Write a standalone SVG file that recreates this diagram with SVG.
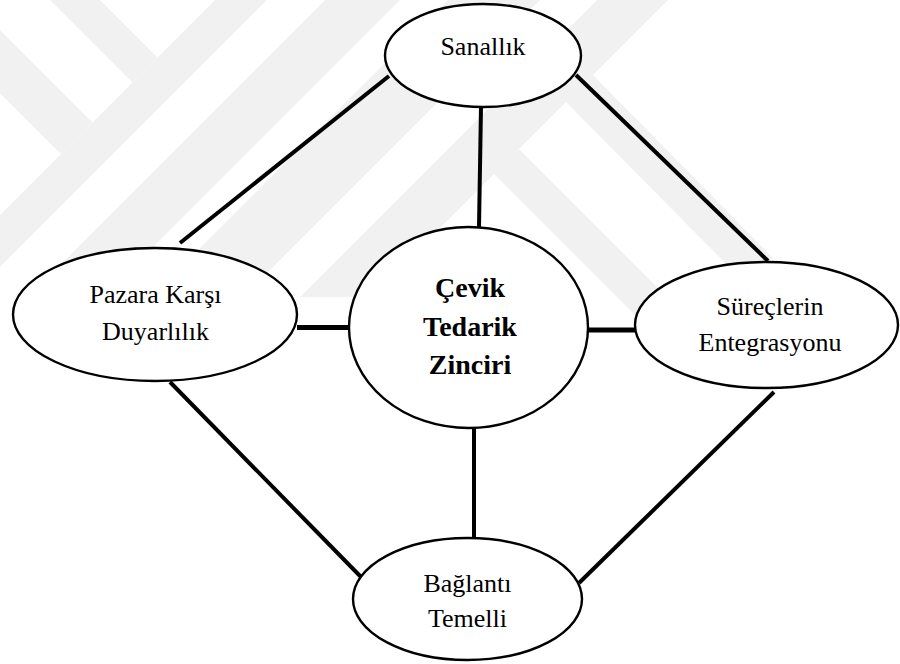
<svg xmlns="http://www.w3.org/2000/svg" width="900" height="664" viewBox="0 0 900 664">
  <style>
    .band { fill: #f1f1f1; stroke: none; }
    .node ellipse { fill: #ffffff; stroke: #000000; stroke-width: 2.4; }
    .label { font-family: 'Liberation Serif', serif; font-size: 26px; fill: #000000; text-anchor: middle; }
    .core { font-family: 'Liberation Serif', serif; font-size: 28px; font-weight: bold; fill: #000000; text-anchor: middle; }
    .link { stroke: #000000; stroke-width: 4; stroke-linecap: butt; fill: none; }
    .link.h { stroke-width: 5; }
  </style>

  <rect x="0" y="0" width="900" height="664" fill="#ffffff"/>

  <!-- faint diagonal band pattern behind the figure -->
  <g id="backdrop">
    <polygon class="band" points="50,0 100,0 157.5,57.5 132.5,82.5"/>
    <polygon class="band" points="0,30 92.5,122.5 61,154 0,93"/>
    <polygon class="band" points="215,0 267,0 0,267 0,215"/>
    <polygon class="band" points="325,0 400,0 103,297 28,297"/>
    <polygon class="band" points="448,0 540,0 243,297 151,297"/>
    <polygon class="band" points="597,0 668,0 371,297 300,297"/>
    <polygon class="band" points="566,102 593,75 772.5,257.5 746,284"/>
    <polygon class="band" points="494,174 519,149 662.5,292.5 637.5,317.5"/>
  </g>

  <!-- connectors -->
  <g id="connectors">
    <line class="link" x1="389" y1="76" x2="180" y2="243"/>
    <line class="link" x1="481" y1="107" x2="479" y2="227"/>
    <line class="link" x1="576" y1="75" x2="768" y2="261"/>
    <line class="link h" x1="297" y1="327.5" x2="349" y2="327.5"/>
    <line class="link h" x1="588" y1="330" x2="636" y2="330"/>
    <line class="link" x1="170" y1="382" x2="362" y2="578"/>
    <line class="link" x1="474" y1="428" x2="474" y2="538"/>
    <line class="link" x1="774" y1="392" x2="579" y2="583"/>
  </g>

  <g id="sanallik" class="node">
    <ellipse cx="483" cy="55.5" rx="98" ry="51.5"/>
    <text class="label" x="483" y="55">Sanallık</text>
  </g>

  <g id="pazara" class="node">
    <ellipse cx="155" cy="314.5" rx="142" ry="66.5"/>
    <text class="label" x="155.5" y="303">Pazara Karşı</text>
    <text class="label" x="155.5" y="340">Duyarlılık</text>
  </g>

  <g id="cevik" class="node">
    <ellipse cx="468.5" cy="327.5" rx="119.5" ry="100.5"/>
    <text class="core" x="470" y="297">Çevik</text>
    <text class="core" x="470" y="336">Tedarik</text>
    <text class="core" x="470" y="374">Zinciri</text>
  </g>

  <g id="surecler" class="node">
    <ellipse cx="766.5" cy="325" rx="131.5" ry="63"/>
    <text class="label" x="770" y="315">Süreçlerin</text>
    <text class="label" x="770" y="351">Entegrasyonu</text>
  </g>

  <g id="baglanti" class="node">
    <ellipse cx="467.5" cy="599" rx="114.5" ry="61"/>
    <text class="label" x="467.5" y="592">Bağlantı</text>
    <text class="label" x="467.5" y="627">Temelli</text>
  </g>
</svg>
